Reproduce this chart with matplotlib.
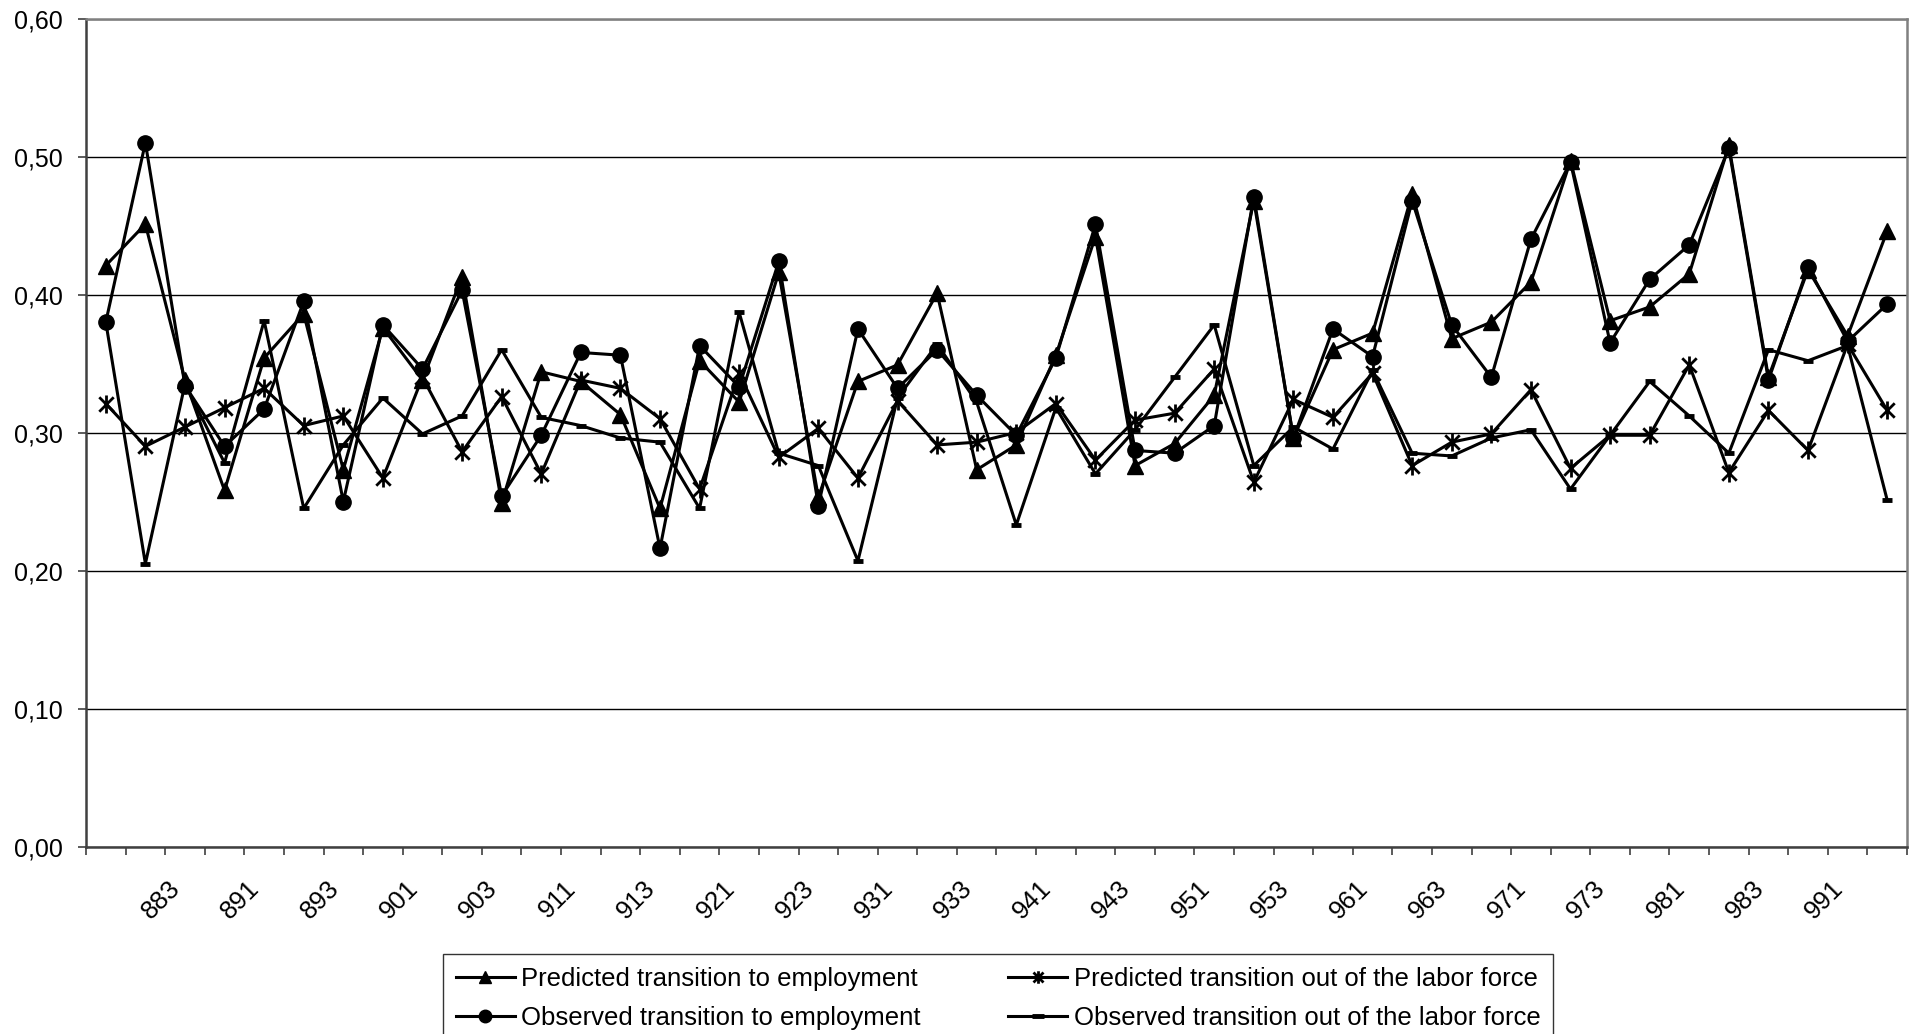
import matplotlib

matplotlib.use("Agg")
import matplotlib.pyplot as plt
import matplotlib.transforms as mtransforms
import numpy as np
from matplotlib.path import Path

plt.rcParams["font.family"] = ["Liberation Sans", "DejaVu Sans"]

# quarters, yyq
periods = [
    "882", "883", "884", "891", "892", "893", "894", "901", "902", "903",
    "904", "911", "912", "913", "914", "921", "922", "923", "924", "931",
    "932", "933", "934", "941", "942", "943", "944", "951", "952", "953",
    "954", "961", "962", "963", "964", "971", "972", "973", "974", "981",
    "982", "983", "984", "991", "992", "993",
]

pred_emp = [
    0.421, 0.451, 0.338, 0.258, 0.354, 0.386, 0.273, 0.376, 0.338, 0.413,
    0.249, 0.344, 0.337, 0.313, 0.245, 0.352, 0.322, 0.416, 0.253, 0.337,
    0.349, 0.401, 0.273, 0.291, 0.356, 0.442, 0.276, 0.292, 0.327, 0.468,
    0.296, 0.360, 0.372, 0.473, 0.368, 0.380, 0.409, 0.497, 0.381, 0.391,
    0.415, 0.508, 0.340, 0.418, 0.370, 0.446,
]
obs_emp = [
    0.380, 0.510, 0.334, 0.290, 0.317, 0.395, 0.250, 0.378, 0.346, 0.403,
    0.254, 0.298, 0.358, 0.356, 0.216, 0.363, 0.333, 0.424, 0.247, 0.375,
    0.332, 0.360, 0.327, 0.298, 0.354, 0.451, 0.287, 0.285, 0.305, 0.471,
    0.296, 0.375, 0.355, 0.468, 0.378, 0.340, 0.440, 0.496, 0.365, 0.411,
    0.436, 0.506, 0.338, 0.420, 0.366, 0.393,
]
pred_out = [
    0.321, 0.290, 0.304, 0.318, 0.332, 0.305, 0.312, 0.267, 0.340, 0.286,
    0.326, 0.270, 0.338, 0.332, 0.310, 0.259, 0.343, 0.282, 0.303, 0.267,
    0.323, 0.291, 0.293, 0.300, 0.321, 0.280, 0.309, 0.314, 0.346, 0.264,
    0.324, 0.311, 0.343, 0.276, 0.293, 0.299, 0.331, 0.274, 0.298, 0.298,
    0.349, 0.271, 0.316, 0.287, 0.364, 0.316,
]
obs_out = [
    0.380, 0.205, 0.335, 0.278, 0.381, 0.245, 0.291, 0.325, 0.299, 0.312,
    0.360, 0.311, 0.305, 0.296, 0.293, 0.245, 0.387, 0.285, 0.276, 0.207,
    0.325, 0.364, 0.322, 0.233, 0.318, 0.270, 0.302, 0.340, 0.378, 0.276,
    0.304, 0.288, 0.345, 0.285, 0.283, 0.296, 0.302, 0.259, 0.298, 0.337,
    0.312, 0.285, 0.360, 0.352, 0.363, 0.251,
]

W, H = 1915, 1034
fig = plt.figure(figsize=(W / 100, H / 100), dpi=100)
ax = fig.add_axes([86 / W, 1 - 846.5 / H, (1907 - 86) / W, (846.5 - 18.5) / H])

# excel style star: X plus a vertical bar
star = Path(
    [(0, -1), (0, 1), (-0.8, -0.8), (0.8, 0.8), (-0.8, 0.8), (0.8, -0.8)],
    [Path.MOVETO, Path.LINETO] * 3,
)

x = np.arange(len(periods))
common = dict(color="black", lw=2.2, clip_on=False)
h1, = ax.plot(x, pred_emp, marker="^", ms=11, label="Predicted transition to employment", **common)
h2, = ax.plot(x, obs_emp, marker="o", ms=11, label="Observed transition to employment", **common)
h3, = ax.plot(x, pred_out, marker=star, ms=13, mew=2, mfc="none", label="Predicted transition out of the labor force", **common)
h4, = ax.plot(x, obs_out, marker="_", ms=7, mew=3.5, label="Observed transition out of the labor force", **common)

ax.set_xlim(-0.5, len(periods) - 0.5)
ax.set_ylim(0, 0.6)
ax.set_yticks(np.arange(0, 0.61, 0.1))
ax.set_yticklabels([f"{v:.2f}".replace(".", ",") for v in np.arange(0, 0.61, 0.1)], fontsize=18)
ax.yaxis.grid(True, color="black", lw=1)
ax.set_axisbelow(True)
ax.tick_params(axis="y", direction="out", length=6, width=1.2, pad=11, color="#404040")

ax.set_xticks(np.arange(-0.5, len(periods), 1.0))
ax.set_xticklabels([])
ax.tick_params(axis="x", direction="out", length=6, width=1.2, color="#404040")

# every other quarter labelled; excel drops the last one, it does not fit
offset = mtransforms.ScaledTranslation(16 / 100, -30 / 100, fig.dpi_scale_trans)
trans = mtransforms.blended_transform_factory(ax.transData, ax.transAxes) + offset
for i in range(1, len(periods) - 1, 2):
    ax.text(i, 0, periods[i], transform=trans, rotation=45, ha="center", va="top", fontsize=18.5)

for side in ["left", "bottom"]:
    ax.spines[side].set_color("#404040")
    ax.spines[side].set_linewidth(1.8)
for side in ["top", "right"]:
    ax.spines[side].set_color("#808080")
    ax.spines[side].set_linewidth(1.8)

leg = fig.legend(
    [h1, h2, h3, h4],
    [h.get_label() for h in [h1, h2, h3, h4]],
    loc="upper left",
    bbox_to_anchor=(443 / W, 1 - 954 / H),
    ncol=2,
    fontsize=18.5,
    frameon=True,
    fancybox=False,
    edgecolor="black",
    borderaxespad=0,
    borderpad=0.5,
    handlelength=2.3,
    handletextpad=0.25,
    columnspacing=3.4,
    labelspacing=0.6,
    numpoints=1,
)
leg.get_frame().set_linewidth(1.0)
for line in leg.get_lines():
    line.set_markersize(9)

fig.savefig("out.png", dpi=100)
